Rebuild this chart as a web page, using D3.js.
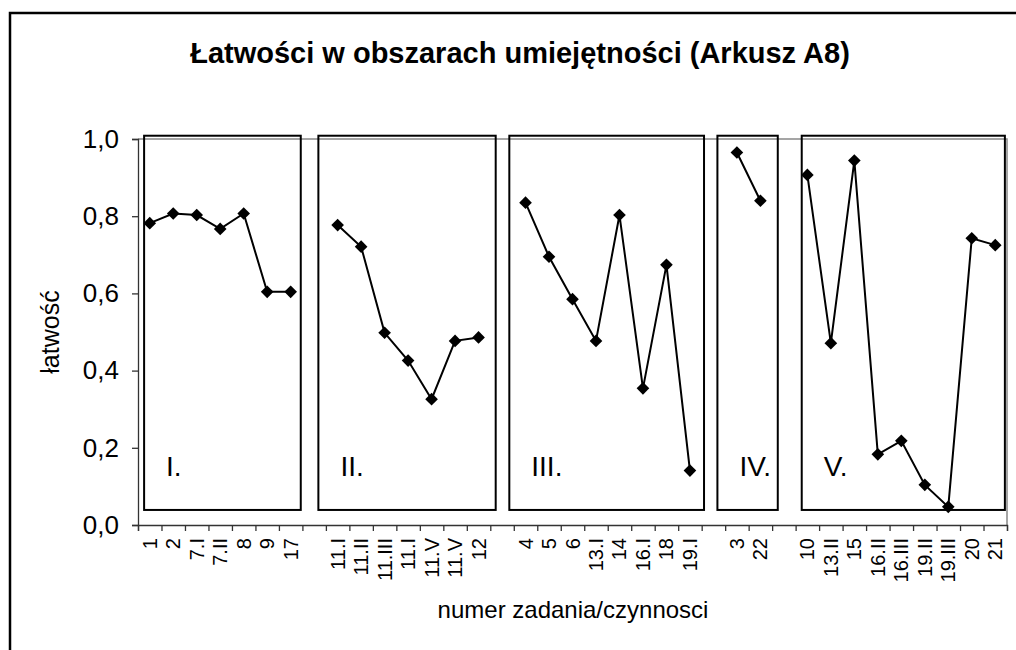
<!DOCTYPE html>
<html>
<head>
<meta charset="utf-8">
<script src="https://cdn.jsdelivr.net/npm/d3@7"></script>
<style>
  html, body { margin: 0; padding: 0; background: #fff; }
  svg { display: block; font-family: "Liberation Sans", Arial, sans-serif; }
</style>
</head>
<body>
<svg id="chart" width="1016" height="650"></svg>
<script>
// ---- data ----
const title = "Łatwości w obszarach umiejętności (Arkusz A8)";
const yTitle = "łatwość";
const xTitle = "numer zadania/czynnosci";
const categories = ["1","2","7.I","7.II","8","9","17","",
  "11.I","11.II","11.III","11.I","11.V","11.V","12","",
  "4","5","6","13.I","14","16.I","18","19.I","",
  "3","22","",
  "10","13.II","15","16.II","16.III","19.II","19.III","20","21"];
const values = [0.782,0.807,0.803,0.767,0.807,0.604,0.604,null,
  0.777,0.721,0.498,0.426,0.326,0.477,0.486,null,
  0.835,0.695,0.585,0.477,0.803,0.354,0.674,0.141,null,
  0.965,0.840,null,
  0.907,0.471,0.944,0.183,0.218,0.104,0.047,0.743,0.725];
const yTicks = [0,0.2,0.4,0.6,0.8,1.0];
const groupNames = ["I.","II.","III.","IV.","V."];
const groupBoxStart = [0.26, 7.68, 15.81, 24.67, 28.26]; // in category units
const groupBoxEnd   = [6.93, 15.23, 24.10, 27.24, 36.91];
const groupBoxTop = 1.0085, groupBoxBottom = 0.039;

// ---- layout ----
const svg = d3.select("#chart");
const plot = {left: 138, right: 1007, top: 139, bottom: 525};
const x = d3.scaleLinear().domain([0, categories.length]).range([plot.left, plot.right]);
const y = d3.scaleLinear().domain([0, 1]).range([plot.bottom, plot.top]);
const axisColor = "#333";

// outer frame
svg.append("rect").attr("x", 10).attr("y", 13).attr("width", 1200).attr("height", 800)
  .attr("fill", "none").attr("stroke", "#000").attr("stroke-width", 2.5);

// title
svg.append("text").attr("x", 520).attr("y", 63).attr("text-anchor", "middle")
  .attr("font-size", 29).attr("font-weight", "bold").text(title);

// plot area border (top/right grey)
svg.append("path")
  .attr("d", `M${plot.left},${y(1)}H${plot.right}V${plot.bottom}`)
  .attr("fill", "none").attr("stroke", "#888").attr("stroke-width", 1.5);

// group boxes
groupNames.forEach((g, i) => {
  const x0 = x(groupBoxStart[i]), x1 = x(groupBoxEnd[i]);
  const y0 = y(groupBoxTop), y1 = y(groupBoxBottom);
  svg.append("rect").attr("x", x0).attr("y", y0).attr("width", x1 - x0).attr("height", y1 - y0)
    .attr("fill", "none").attr("stroke", "#000").attr("stroke-width", 2);
  svg.append("text").attr("x", x0 + 22).attr("y", 476).attr("font-size", 28).text(g);
});

// y axis
const yAxis = d3.axisLeft(y).tickValues(yTicks).tickSize(6).tickPadding(13)
  .tickFormat(d => d3.format(".1f")(d).replace(".", ","));
const gy = svg.append("g").attr("transform", `translate(${plot.left},0)`).call(yAxis);
gy.select(".domain").attr("stroke", axisColor).attr("stroke-width", 1.3);
gy.selectAll(".tick line").attr("stroke", axisColor).attr("stroke-width", 1.3);
gy.selectAll(".tick text").attr("font-size", 26).attr("fill", "#000")
  .attr("font-family", "Liberation Sans, Arial, sans-serif");

// x axis (ticks at category boundaries)
const xAxis = d3.axisBottom(x).tickValues(d3.range(0, categories.length + 1)).tickSize(6).tickFormat("");
const gx = svg.append("g").attr("transform", `translate(0,${plot.bottom})`).call(xAxis);
gx.select(".domain").attr("stroke", axisColor).attr("stroke-width", 1.3);
gx.selectAll(".tick line").attr("stroke", axisColor).attr("stroke-width", 1.3);

// x category labels
svg.append("g").selectAll("text").data(categories).join("text")
  .attr("transform", (d, i) => `translate(${x(i + 0.5)},538) rotate(-90)`)
  .attr("text-anchor", "end").attr("dy", "0.35em").attr("font-size", 20)
  .text(d => d);

// axis titles
svg.append("text").attr("transform", "translate(59,332) rotate(-90)")
  .attr("text-anchor", "middle").attr("font-size", 25).text(yTitle);
svg.append("text").attr("x", 573).attr("y", 618).attr("text-anchor", "middle")
  .attr("font-size", 24).text(xTitle);

// line
const pts = values.map((v, i) => ({i, v}));
const line = d3.line().defined(d => d.v !== null).x(d => x(d.i + 0.5)).y(d => y(d.v));
svg.append("path").datum(pts).attr("d", line)
  .attr("fill", "none").attr("stroke", "#000").attr("stroke-width", 2);

// diamond markers
const sym = d3.symbol().type(d3.symbolSquare).size(80);
svg.append("g").selectAll("path").data(pts.filter(d => d.v !== null)).join("path")
  .attr("transform", d => `translate(${x(d.i + 0.5)},${y(d.v)}) rotate(45)`)
  .attr("d", sym).attr("fill", "#000");
</script>
</body>
</html>
